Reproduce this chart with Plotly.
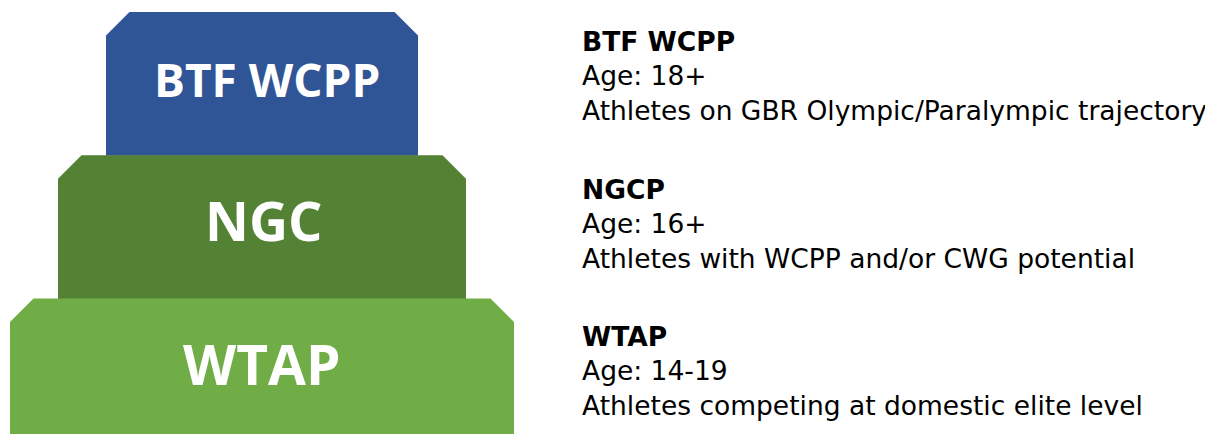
import plotly.graph_objects as go

# ---- data ----
tiers = ["BTF WCPP", "NGC", "WTAP"]
titles = ["BTF WCPP", "NGCP", "WTAP"]
ages = ["Age: 18+", "Age: 16+", "Age: 14-19"]
descriptions = [
    "Athletes on GBR Olympic/Paralympic trajectory",
    "Athletes with WCPP and/or CWG potential",
    "Athletes competing at domestic elite level",
]
colors = ["#2F5597", "#548235", "#70AD47"]

# ---- layout constants ----
W, H = 1213, 434
OFF = 8  # page body margin
cx = 262
top0 = 12
tier_h = 143.3
half0 = 156
half_step = 48
chamfer = 23.5
label_sizes = [46, 54, 55]
label_dx = [5, 1, 0]
label_centers = [78.5, 220, 363]
text_x = 580
text_tops = [23.5, 172, 318.5]

fig = go.Figure()
for i, name in enumerate(tiers):
    top = top0 + i * tier_h
    bottom = top + tier_h + 0.5 if i < len(tiers) - 1 else H + 10
    hw = half0 + i * half_step
    xs = [cx - hw, cx - hw, cx - hw + chamfer, cx + hw - chamfer, cx + hw, cx + hw, cx - hw]
    ys = [bottom, top + chamfer, top, top, top + chamfer, bottom, bottom]
    fig.add_trace(go.Scatter(x=xs, y=ys, fill="toself", fillcolor=colors[i],
                             line=dict(width=0), mode="lines", hoverinfo="skip",
                             showlegend=False))
    fig.add_annotation(x=cx + label_dx[i], y=label_centers[i], xref="x", yref="y",
                       text=f"<b>{name}</b>", showarrow=False,
                       xanchor="center", yanchor="middle",
                       font=dict(family="Open Sans", size=label_sizes[i], color="white"))
    fig.add_annotation(x=text_x, y=text_tops[i], xref="x", yref="y",
                       text=f"<b>{titles[i]}</b><br>{ages[i]}<br>{descriptions[i]}",
                       showarrow=False, xanchor="left", yanchor="top", align="left",
                       font=dict(family="DejaVu Sans", size=26.5, color="#000000"))

fig.update_layout(
    width=W - OFF, height=H - OFF, margin=dict(l=0, r=0, t=0, b=0),
    paper_bgcolor="white", plot_bgcolor="white",
    xaxis=dict(range=[OFF, W], visible=False, fixedrange=True),
    yaxis=dict(range=[H, OFF], visible=False, fixedrange=True),
)
fig.write_html("out.html")
